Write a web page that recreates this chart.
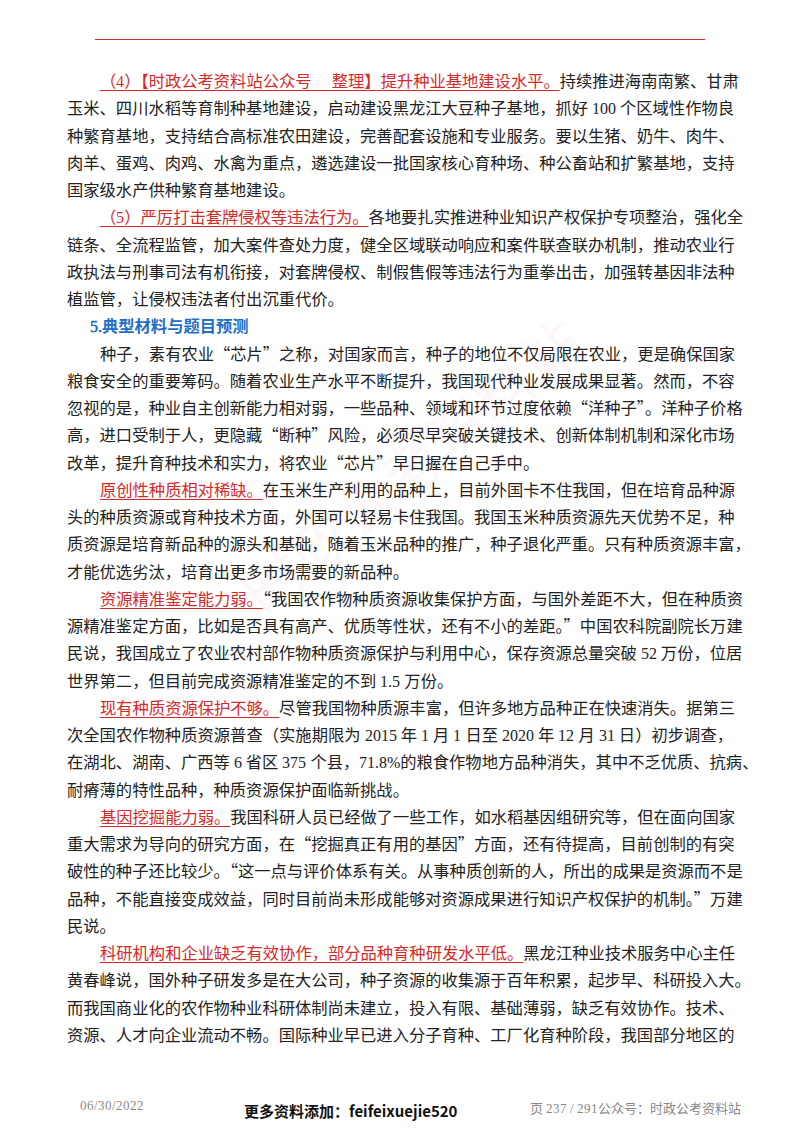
<!DOCTYPE html>
<html><head><meta charset="utf-8">
<script src="https://cdn.jsdelivr.net/npm/chart.js@4"></script>
<style>
@font-face{font-family:"Lat";src:local("Liberation Serif");unicode-range:U+0020-007E;}
html,body{margin:0;padding:0;background:#fff;}
body{width:800px;height:1132px;position:relative;overflow:hidden;font-family:"Lat","Noto Sans CJK SC",serif;color:#222;}
#rule{position:absolute;left:95px;top:39px;width:610px;height:1px;background:#c33;}
#text{position:absolute;left:67px;top:68px;width:666px;font-size:16.3px;line-height:27.25px;}
.l{white-space:nowrap;text-align:justify;text-align-last:justify;height:27.25px;}
.e{text-align-last:left;}
.i{padding-left:33px;}
.r{color:#d42a2a;text-decoration:underline;text-decoration-color:#d42a2a;text-underline-offset:3px;}
.h{color:#1f6fc6;font-weight:bold;padding-left:23px;}
#foot{position:absolute;top:1098px;left:0;width:800px;font-size:13px;color:#888;}
#wm{position:absolute;left:200px;top:420px;transform:rotate(-40deg);font-size:60px;color:rgba(230,120,120,0.06);white-space:nowrap;font-family:"Noto Sans CJK SC";}
</style></head><body>
<div id="rule"></div>
<div id="wm">时政公考资料站</div>
<div id="text"></div>
<div id="foot">
<span style="position:absolute;left:80px;top:0">06/30/2022</span>
<span style="position:absolute;left:244px;top:2px;color:#111;font-weight:bold;font-size:15px;font-family:'Noto Sans CJK SC'">更多资料添加：feifeixuejie520</span>
<span style="position:absolute;left:530px;top:0">页 237 / 291公众号：时政公考资料站</span>
</div>
<script>
// each entry: [red lead-in, rest of line, kind] ; kind: i = indented first line, e = last line, h = heading
var lines = [
  ["（4）【时政公考资料站公众号　 整理】提升种业基地建设水平。", "持续推进海南南繁、甘肃", "i"],
  ["", "玉米、四川水稻等育制种基地建设，启动建设黑龙江大豆种子基地，抓好 100 个区域性作物良", ""],
  ["", "种繁育基地，支持结合高标准农田建设，完善配套设施和专业服务。要以生猪、奶牛、肉牛、", ""],
  ["", "肉羊、蛋鸡、肉鸡、水禽为重点，遴选建设一批国家核心育种场、种公畜站和扩繁基地，支持", ""],
  ["", "国家级水产供种繁育基地建设。", "e"],
  ["（5）严厉打击套牌侵权等违法行为。", "各地要扎实推进种业知识产权保护专项整治，强化全", "i"],
  ["", "链条、全流程监管，加大案件查处力度，健全区域联动响应和案件联查联办机制，推动农业行", ""],
  ["", "政执法与刑事司法有机衔接，对套牌侵权、制假售假等违法行为重拳出击，加强转基因非法种", ""],
  ["", "植监管，让侵权违法者付出沉重代价。", "e"],
  ["", "5.典型材料与题目预测", "h"],
  ["", "种子，素有农业“芯片”之称，对国家而言，种子的地位不仅局限在农业，更是确保国家", "i"],
  ["", "粮食安全的重要筹码。随着农业生产水平不断提升，我国现代种业发展成果显著。然而，不容", ""],
  ["", "忽视的是，种业自主创新能力相对弱，一些品种、领域和环节过度依赖“洋种子”。洋种子价格", ""],
  ["", "高，进口受制于人，更隐藏“断种”风险，必须尽早突破关键技术、创新体制机制和深化市场", ""],
  ["", "改革，提升育种技术和实力，将农业“芯片”早日握在自己手中。", "e"],
  ["原创性种质相对稀缺。", "在玉米生产利用的品种上，目前外国卡不住我国，但在培育品种源", "i"],
  ["", "头的种质资源或育种技术方面，外国可以轻易卡住我国。我国玉米种质资源先天优势不足，种", ""],
  ["", "质资源是培育新品种的源头和基础，随着玉米品种的推广，种子退化严重。只有种质资源丰富，", ""],
  ["", "才能优选劣汰，培育出更多市场需要的新品种。", "e"],
  ["资源精准鉴定能力弱。", "“我国农作物种质资源收集保护方面，与国外差距不大，但在种质资", "i"],
  ["", "源精准鉴定方面，比如是否具有高产、优质等性状，还有不小的差距。”中国农科院副院长万建", ""],
  ["", "民说，我国成立了农业农村部作物种质资源保护与利用中心，保存资源总量突破 52 万份，位居", ""],
  ["", "世界第二，但目前完成资源精准鉴定的不到 1.5 万份。", "e"],
  ["现有种质资源保护不够。", "尽管我国物种质源丰富，但许多地方品种正在快速消失。据第三", "i"],
  ["", "次全国农作物种质资源普查（实施期限为 2015 年 1 月 1 日至 2020 年 12 月 31 日）初步调查，", ""],
  ["", "在湖北、湖南、广西等 6 省区 375 个县，71.8%的粮食作物地方品种消失，其中不乏优质、抗病、", ""],
  ["", "耐瘠薄的特性品种，种质资源保护面临新挑战。", "e"],
  ["基因挖掘能力弱。", "我国科研人员已经做了一些工作，如水稻基因组研究等，但在面向国家", "i"],
  ["", "重大需求为导向的研究方面，在“挖掘真正有用的基因”方面，还有待提高，目前创制的有突", ""],
  ["", "破性的种子还比较少。“这一点与评价体系有关。从事种质创新的人，所出的成果是资源而不是", ""],
  ["", "品种，不能直接变成效益，同时目前尚未形成能够对资源成果进行知识产权保护的机制。”万建", ""],
  ["", "民说。", "e"],
  ["科研机构和企业缺乏有效协作，部分品种育种研发水平低。", "黑龙江种业技术服务中心主任", "i"],
  ["", "黄春峰说，国外种子研发多是在大公司，种子资源的收集源于百年积累，起步早、科研投入大。", ""],
  ["", "而我国商业化的农作物种业科研体制尚未建立，投入有限、基础薄弱，缺乏有效协作。技术、", ""],
  ["", "资源、人才向企业流动不畅。国际种业早已进入分子育种、工厂化育种阶段，我国部分地区的", ""]
];

var box = document.getElementById("text");
lines.forEach(function (ln) {
  var d = document.createElement("div");
  d.className = "l" + (ln[2] === "i" ? " i" : "") + (ln[2] === "e" || ln[2] === "h" ? " e" : "") + (ln[2] === "h" ? " h" : "");
  if (ln[0]) {
    var s = document.createElement("span");
    s.className = "r";
    s.textContent = ln[0];
    d.appendChild(s);
  }
  d.appendChild(document.createTextNode(ln[1]));
  box.appendChild(d);
});
</script>
</body></html>
